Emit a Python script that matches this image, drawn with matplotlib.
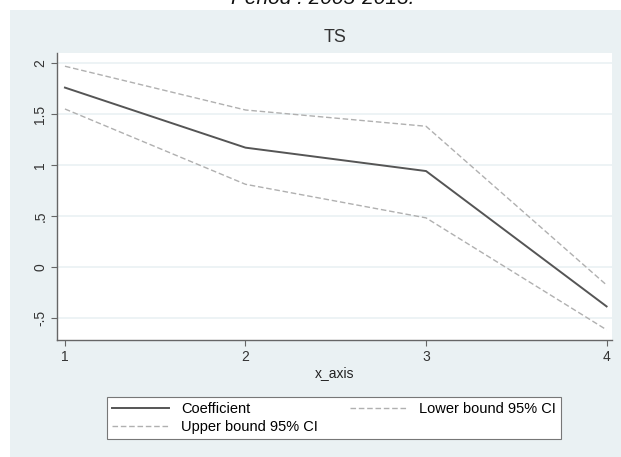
import matplotlib
matplotlib.use("Agg")
import matplotlib.pyplot as plt
from matplotlib.lines import Line2D

plt.rcParams["font.family"] = ["Liberation Sans", "DejaVu Sans"]

x = [1, 2, 3, 4]
coef = [1.76, 1.17, 0.94, -0.39]
upper = [1.97, 1.54, 1.38, -0.18]
lower = [1.55, 0.81, 0.48, -0.62]
yticks = [-0.5, 0, 0.5, 1, 1.5, 2]
ylabels = ["-.5", "0", ".5", "1", "1.5", "2"]
xticks = [1, 2, 3, 4]

W, H = 621, 457
fig = plt.figure(figsize=(W / 100, H / 100), dpi=100)
fig.patch.set_facecolor("white")
panel_color = "#eaf1f3"

bg = fig.add_axes([10 / W, 0, 1 - 10 / W, 1 - 10 / H])
bg.set_facecolor(panel_color)
bg.set_xticks([])
bg.set_yticks([])
for s in bg.spines.values():
    s.set_visible(False)
bg.set_zorder(0)

fig.text(0.52, 1 + 1 / H, "Period : 2005-2013.", ha="center", va="center",
         fontsize=15, style="italic", color="#111111")

ax = fig.add_axes([57 / W, 1 - 340 / H, (612 - 57) / W, (340 - 53) / H])
ax.set_zorder(1)
ax.set_facecolor("white")
for yv in yticks:
    ax.axhline(yv, color=panel_color, lw=1.2, zorder=1)

ax.plot(x, coef, color="#555555", lw=1.4, zorder=3)
ax.plot(x, lower, color="#b0b0b0", lw=1.0, ls=(0, (4, 2)), zorder=2)
ax.plot(x, upper, color="#b0b0b0", lw=1.0, ls=(0, (4, 2)), zorder=2)

ax.set_xlim(0.956, 4.03)
ax.set_ylim(-0.72, 2.1)
ax.set_xticks(xticks)
ax.set_xticklabels([str(v) for v in xticks], fontsize=10, color="#333333")
ax.set_yticks(yticks)
ax.set_yticklabels(ylabels, fontsize=10, color="#333333", rotation=90, va="center")
for s in ["top", "right"]:
    ax.spines[s].set_visible(False)
for s in ["left", "bottom"]:
    ax.spines[s].set_color("#666666")
    ax.spines[s].set_linewidth(1.0)
ax.tick_params(axis="both", length=4, color="#666666", width=0.8, pad=3)
ax.set_xlabel("x_axis", fontsize=10, color="#222222", labelpad=2)

fig.text(335 / W, 1 - 37 / H, "TS", ha="center", va="center", fontsize=13, color="#333333")

handles = [Line2D([], [], color="#555555", lw=1.4),
           Line2D([], [], color="#b0b0b0", lw=1.0, ls=(0, (4, 2))),
           Line2D([], [], color="#b0b0b0", lw=1.0, ls=(0, (4, 2)))]
labels = ["Coefficient", "Lower bound 95% CI", "Upper bound 95% CI"]
order = [0, 2, 1]
leg = fig.legend([handles[i] for i in order], [labels[i] for i in order], ncol=2,
                 loc="upper left", bbox_to_anchor=(100 / W, 1 - 441 / H, (568 - 100) / W, 51 / H),
                 mode="expand", fontsize=10.5, frameon=True, fancybox=False,
                 handlelength=3.9, handletextpad=0.8, borderpad=0.35, labelspacing=0.25,
                 columnspacing=2.0, edgecolor="#777777", framealpha=1)
leg.get_frame().set_linewidth(0.8)
leg.set_zorder(5)

fig.savefig("out.png", dpi=100, facecolor=fig.get_facecolor())
